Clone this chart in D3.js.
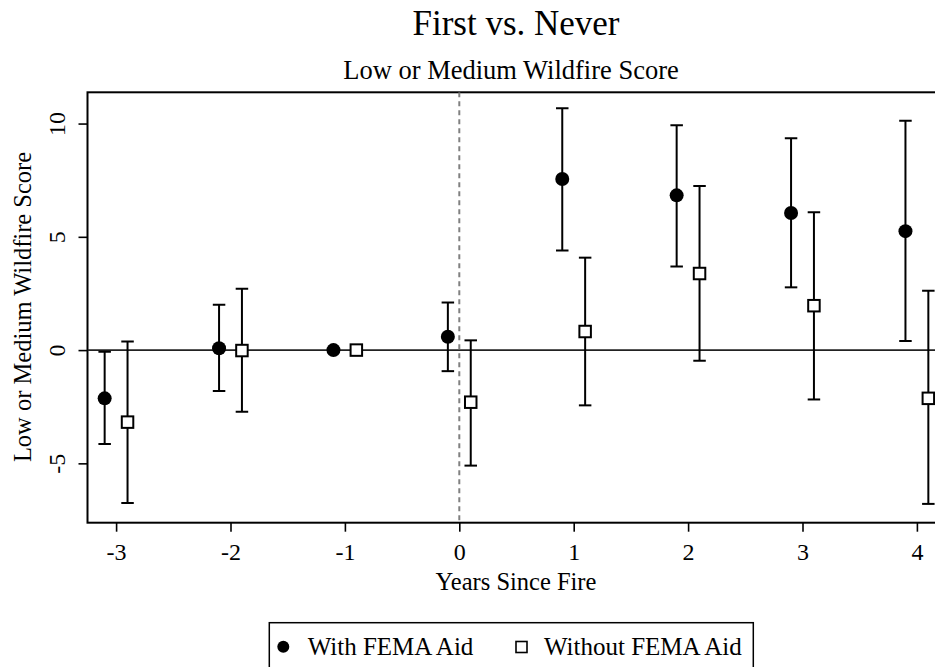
<!DOCTYPE html>
<html>
<head>
<meta charset="utf-8">
<script src="https://cdn.jsdelivr.net/npm/d3@7"></script>
<style>
  html, body { margin: 0; padding: 0; background: #fff; overflow: hidden; }
  text { font-family: "Liberation Serif", "Times New Roman", serif; fill: #000; }
</style>
</head>
<body>
<script>
// Event-study estimates by years since fire
const years = [-3, -2, -1, 0, 1, 2, 3, 4];

const withAid      = [-2.13, 0.08, 0, 0.59, 7.55, 6.83, 6.05, 5.25];
const withAidLo    = [-4.15, -1.81, null, -0.93, 4.40, 3.69, 2.77, 0.40];
const withAidHi    = [-0.07, 2.00, null, 2.10, 10.68, 9.93, 9.35, 10.12];

const withoutAid   = [-3.18, -0.02, 0, -2.30, 0.82, 3.38, 1.96, -2.13];
const withoutAidLo = [-6.75, -2.72, null, -5.10, -2.44, -0.47, -2.18, -6.79];
const withoutAidHi = [0.38, 2.71, null, 0.43, 4.08, 7.24, 6.09, 2.62];

const xTicks = [-3, -2, -1, 0, 1, 2, 3, 4];
const yTicks = [-5, 0, 5, 10];

const W = 935, H = 667;
const svg = d3.select("body").append("svg").attr("width", W).attr("height", H);

const plotLeft = 87.5, plotTop = 92.3, plotBottom = 522.7;
const x = d3.scaleLinear().domain([-3.25, 4.25]).range([plotLeft, plotLeft + 7.5 * 114.4]);
const y = d3.scaleLinear().domain([-7.62, 11.38]).range([plotBottom, plotTop]);
const fmt = d => String(d); // plain hyphen for negatives

// clip the plotting region
svg.append("clipPath").attr("id", "plot")
  .append("rect").attr("x", plotLeft).attr("y", plotTop)
  .attr("width", x(4.25) - plotLeft).attr("height", plotBottom - plotTop);

// titles
svg.append("text").attr("x", 516).attr("y", 35).attr("text-anchor", "middle")
  .style("font-size", "35px").text("First vs. Never");
svg.append("text").attr("x", 511).attr("y", 79).attr("text-anchor", "middle")
  .style("font-size", "26.5px").text("Low or Medium Wildfire Score");

// frame
svg.append("rect").attr("x", plotLeft).attr("y", plotTop)
  .attr("width", x(4.25) - plotLeft).attr("height", plotBottom - plotTop)
  .attr("fill", "none").attr("stroke", "#000").attr("stroke-width", 2);

// axes
const yAxis = d3.axisLeft(y).tickValues(yTicks).tickSize(9).tickFormat(fmt);
const gy = svg.append("g").attr("transform", `translate(${plotLeft},0)`).call(yAxis);
gy.attr("font-family", null).attr("font-size", null);
gy.select(".domain").remove();
gy.selectAll(".tick line").attr("stroke", "#000").attr("stroke-width", 1.6);
gy.selectAll(".tick text")
  .attr("x", null).attr("dy", null)
  .attr("transform", "translate(-23,0) rotate(-90)")
  .attr("text-anchor", "middle")
  .style("font-size", "24px");

const xAxis = d3.axisBottom(x).tickValues(xTicks).tickSize(9).tickFormat(fmt);
const gx = svg.append("g").attr("transform", `translate(0,${plotBottom})`).call(xAxis);
gx.attr("font-family", null).attr("font-size", null);
gx.select(".domain").remove();
gx.selectAll(".tick line").attr("stroke", "#000").attr("stroke-width", 1.6);
gx.selectAll(".tick text").attr("y", 37).attr("dy", null)
  .style("font-size", "24px");

// axis titles
svg.append("text").attr("x", 516).attr("y", 590).attr("text-anchor", "middle")
  .style("font-size", "24.5px").text("Years Since Fire");
svg.append("text").attr("transform", "translate(31,307) rotate(-90)").attr("text-anchor", "middle")
  .style("font-size", "24.5px").text("Low or Medium Wildfire Score");

const plot = svg.append("g").attr("clip-path", "url(#plot)");

// reference lines
plot.append("line").attr("x1", plotLeft).attr("x2", W + 20)
  .attr("y1", y(0)).attr("y2", y(0)).attr("stroke", "#222").attr("stroke-width", 1.8);
plot.append("line").attr("x1", x(0)).attr("x2", x(0))
  .attr("y1", plotTop).attr("y2", plotBottom).attr("stroke", "#808080")
  .attr("stroke-width", 2).attr("stroke-dasharray", "5,4");

const capW = 12.5;
function drawSeries(vals, lo, hi, offset, kind) {
  const rows = years.map((yr, i) => ({ xv: yr + offset, v: vals[i], lo: lo[i], hi: hi[i] }));
  const g = plot.append("g");
  const ci = rows.filter(r => r.lo !== null);
  g.selectAll("line.bar").data(ci).join("line").attr("class", "bar")
    .attr("x1", r => x(r.xv)).attr("x2", r => x(r.xv))
    .attr("y1", r => y(r.lo)).attr("y2", r => y(r.hi))
    .attr("stroke", "#000").attr("stroke-width", 2);
  ["lo", "hi"].forEach(k => {
    g.selectAll("line.cap" + k).data(ci).join("line").attr("class", "cap" + k)
      .attr("x1", r => x(r.xv) - capW / 2).attr("x2", r => x(r.xv) + capW / 2)
      .attr("y1", r => y(r[k])).attr("y2", r => y(r[k]))
      .attr("stroke", "#000").attr("stroke-width", 2);
  });
  if (kind === "circle") {
    g.selectAll("circle").data(rows).join("circle")
      .attr("cx", r => x(r.xv)).attr("cy", r => y(r.v)).attr("r", 7).attr("fill", "#000");
  } else {
    const s = 11.5;
    g.selectAll("rect").data(rows).join("rect")
      .attr("x", r => x(r.xv) - s / 2).attr("y", r => y(r.v) - s / 2)
      .attr("width", s).attr("height", s)
      .attr("fill", "#fff").attr("stroke", "#000").attr("stroke-width", 2);
  }
}
drawSeries(withAid, withAidLo, withAidHi, -0.1, "circle");
drawSeries(withoutAid, withoutAidLo, withoutAidHi, 0.1, "square");

// legend
const lg = svg.append("g");
lg.append("rect").attr("x", 269.3).attr("y", 622.7).attr("width", 484).attr("height", 80)
  .attr("fill", "#fff").attr("stroke", "#000").attr("stroke-width", 1.5);
lg.append("circle").attr("cx", 283.3).attr("cy", 646.7).attr("r", 6).attr("fill", "#000");
lg.append("text").attr("x", 307.7).attr("y", 655).style("font-size", "25px").text("With FEMA Aid");
lg.append("rect").attr("x", 516).attr("y", 641.5).attr("width", 11).attr("height", 11)
  .attr("fill", "#fff").attr("stroke", "#000").attr("stroke-width", 1.6);
lg.append("text").attr("x", 544).attr("y", 655).style("font-size", "25px").text("Without FEMA Aid");
</script>
</body>
</html>
